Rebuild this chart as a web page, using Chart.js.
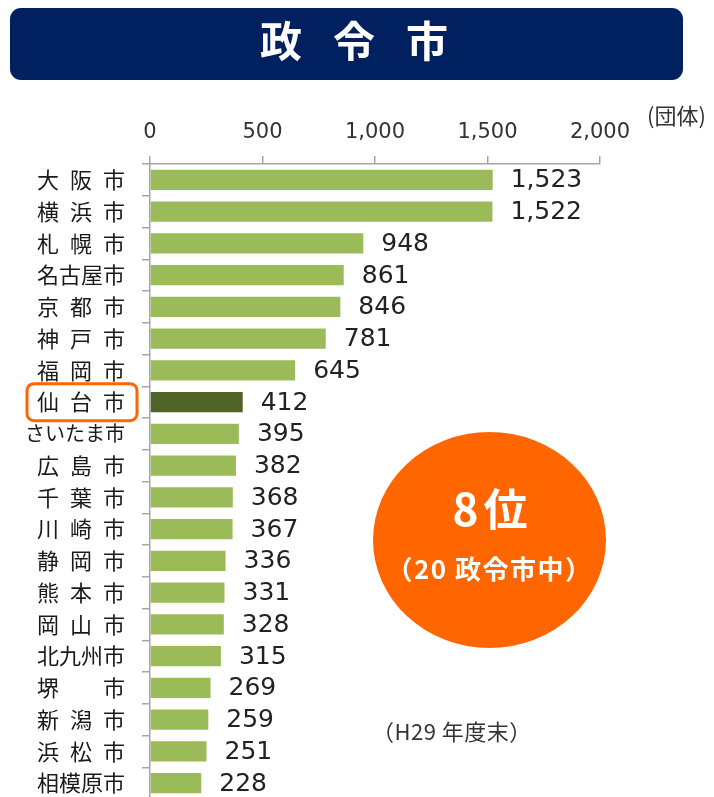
<!DOCTYPE html>
<html><head><meta charset="utf-8">
<script src="https://cdn.jsdelivr.net/npm/chart.js@4/dist/chart.umd.min.js"></script>
<style>
html,body{margin:0;padding:0;background:#fff;overflow:hidden;width:714px;height:797px;}
#wrap{position:relative;width:714px;height:797px;overflow:hidden;}
#chart{position:absolute;left:0;top:0;}
.banner{position:absolute;left:10px;top:8px;width:673px;height:72px;background:#002060;border-radius:11px;}
.banner span{position:absolute;left:250px;top:0;line-height:72px;font:bold 42px "Noto Sans CJK JP";letter-spacing:31px;color:#fff;white-space:nowrap;}
.unit{position:absolute;left:647px;top:100px;font:22px "Noto Sans CJK JP";color:#333;line-height:28px;white-space:nowrap;}
.circle{position:absolute;left:373px;top:432px;width:233px;height:216px;border-radius:50%;background:#ff6600;}
.circle div{position:absolute;left:0;width:233px;text-align:center;color:#fff;font-family:"Noto Sans CJK JP";font-weight:bold;white-space:nowrap;}
.l1{top:49px;font-size:44px;line-height:52px;letter-spacing:5px;padding-left:3px;}
.l2{top:121px;font-size:26px;line-height:30px;letter-spacing:1.5px;}
.note{position:absolute;left:372px;top:716px;font:22px "Noto Sans CJK JP";color:#333;line-height:28px;white-space:nowrap;letter-spacing:0.5px;}
</style>
</head>
<body>
<div id="wrap">
<canvas id="chart" width="714" height="810"></canvas>
<div class="banner"><span>政令市</span></div>
<div class="unit">(団体)</div>
<div class="circle"><div class="l1">8位</div><div class="l2">（20 政令市中）</div></div>
<div class="note">（H29 年度末）</div>
</div>
<script>
const categories = ['大阪市','横浜市','札幌市','名古屋市','京都市','神戸市','福岡市','仙台市','さいたま市','広島市','千葉市','川崎市','静岡市','熊本市','岡山市','北九州市','堺市','新潟市','浜松市','相模原市'];
const values = [1523,1522,948,861,846,781,645,412,395,382,368,367,336,331,328,315,269,259,251,228];
const xTicks = [0, 500, 1000, 1500, 2000];
const highlightCity = '仙台市';

const fmt = v => Number(v).toLocaleString('en-US');
function spaced(name){
  if (name.length === 3) return name.split('').join('\u2002');
  if (name.length === 2) return name[0] + '\u2002\u2002\u2002\u2002' + name[1];
  return name;
}
const hiIndex = categories.indexOf(highlightCity);

const valueLabels = {
  id:'valueLabels',
  afterDatasetsDraw(chart){
    const ctx = chart.ctx;
    const meta = chart.getDatasetMeta(0);
    ctx.save();
    ctx.font = '25px "DejaVu Sans"';
    ctx.fillStyle = '#222';
    ctx.textAlign = 'left';
    ctx.textBaseline = 'middle';
    meta.data.forEach((bar,i)=>{
      ctx.fillText(fmt(values[i]), bar.x + 18, bar.y + 1);
    });
    ctx.restore();
  }
};
const hiBox = {
  id:'hiBox',
  afterDraw(chart){
    const ctx = chart.ctx;
    const y = chart.scales.y.getPixelForValue(hiIndex);
    ctx.save();
    ctx.strokeStyle = '#ff6600';
    ctx.lineWidth = 3;
    ctx.beginPath();
    ctx.roundRect(27, y - 18.5, 110, 37, 7);
    ctx.stroke();
    ctx.restore();
  }
};

new Chart(document.getElementById('chart'), {
  type:'bar',
  data:{
    labels: categories,
    datasets:[{
      data: values,
      backgroundColor: categories.map((c,i)=> i===hiIndex ? '#4f6228' : '#9bbb59'),
      borderWidth:0,
      categoryPercentage:1,
      barPercentage:0.63
    }]
  },
  options:{
    indexAxis:'y',
    responsive:false,
    animation:false,
    events:[],
    layout:{padding:{left:0,right:114,top:0,bottom:11}},
    plugins:{legend:{display:false},tooltip:{enabled:false}},
    scales:{
      x:{
        type:'linear', position:'top', min:0, max:2000,
        afterBuildTicks(s){ s.ticks = xTicks.map(v=>({value:v})); },
        afterFit(s){ s.height = 164; },
        ticks:{ callback:v=>fmt(v), font:{family:'DejaVu Sans', size:21}, color:'#333', padding:11, maxRotation:0 },
        grid:{ drawOnChartArea:false, drawTicks:true, tickLength:8, color:'#a6a6a6', lineWidth:1.5 },
        border:{ display:true, color:'#a6a6a6', width:1.5 }
      },
      y:{
        type:'category',
        afterFit(s){ s.width = 150; s.paddingTop = 0; s.paddingBottom = 0; },
        ticks:{
          callback:function(v,i){ return spaced(categories[i]); },
          font:(c)=>({family:'Noto Sans CJK JP', size: (categories[c.index]||'').length>4 ? 20 : 22}),
          color:'#1a1a1a', padding:17, autoSkip:false
        },
        grid:{ offset:true, drawOnChartArea:false, drawTicks:true, tickLength:8, color:'#a6a6a6', lineWidth:1.5 },
        border:{ display:true, color:'#a6a6a6', width:1.5 }
      }
    }
  },
  plugins:[valueLabels, hiBox]
});
</script>
</body></html>
